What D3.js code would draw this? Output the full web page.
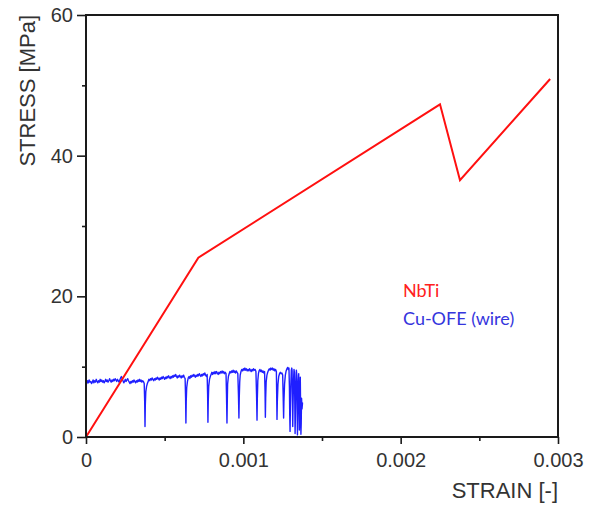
<!DOCTYPE html>
<html>
<head>
<meta charset="utf-8">
<script src="https://cdn.jsdelivr.net/npm/d3@7"></script>
<style>
  html, body { margin: 0; padding: 0; background: #fff; }
  svg { display: block; }
</style>
</head>
<body>
<div id="chart"></div>
<script>
// ---------------- DATA ----------------
const xTickValues = [0, 0.001, 0.002, 0.003];
const xTickLabels = ["0", "0.001", "0.002", "0.003"];
const xMinorTicks = [0.0005, 0.0015, 0.0025];
const yTickValues = [0, 20, 40, 60];
const yTickLabels = ["0", "20", "40", "60"];
const yMinorTicks = [10, 30, 50];

const xTitle = "STRAIN [-]";
const yTitle = "STRESS [MPa]";
const seriesNames = ["NbTi", "Cu-OFE (wire)"];

// NbTi: strain, stress [MPa]
const nbtiStrain = [0, 0.000714, 0.00225, 0.002377, 0.00295];
const nbtiStress = [0, 25.5, 47.3, 36.5, 50.9];

// Cu-OFE (wire): strain in units of 1e-5, stress [MPa]
const cuStrainE5 = [
 0,0.5,1,1.5,2,2.5,3,3.5,4,4.5,5,5.5,6,6.5,7,7.5,8,8.5,9,9.5,
 10,10.5,11,11.5,12,12.5,13,13.5,14,14.5,15,15.5,16,16.5,17,17.5,18,18.5,19,19.5,
 20,20.5,21,21.5,22,22.5,23,23.5,24,24.5,25,25.5,26,26.5,27,27.5,28,28.5,29,29.5,
 30,30.5,31,31.5,32,32.5,33,33.5,34,34.5,35,35.5,36,36.5,37,37.3,37.5,37.7,38,38.5,
 39,39.5,40,40.5,41,41.5,42,42.5,43,43.5,44,44.5,45,45.5,46,46.5,47,47.5,48,48.5,
 49,49.5,50,50.5,51,51.5,52,52.5,53,53.5,54,54.5,55,55.5,56,56.5,57,57.5,58,58.5,
 59,59.5,60,60.5,61,61.5,62,62.5,63,63.3,63.5,63.7,64,64.5,65,65.5,66,66.5,67,67.5,
 68,68.5,69,69.5,70,70.5,71,71.5,72,72.5,73,73.5,74,74.5,75,75.5,76,76.5,77,77.3,
 77.5,77.7,78,78.5,79,79.5,80,80.5,81,81.5,82,82.5,83,83.5,84,84.5,85,85.5,86,86.5,
 87,87.5,88,88.5,89,89.3,89.6,89.8,90,90.5,91,91.5,92,92.5,93,93.5,94,94.5,95,95.5,
 96,96.5,96.9,97.2,97.4,97.7,98,98.5,99,99.5,100,100.5,101,101.5,102,102.5,103,103.5,104,104.5,
 105,105.5,106,106.5,107,107.5,108,108.4,108.7,108.9,109.2,109.6,110,110.5,111,111.5,112,112.5,113,113.5,
 113.8,114,114.2,114.5,115,115.5,116,116.5,117,117.5,118,118.5,119,119.5,120,120.5,121,121.2,121.4,121.6,
 122,122.5,123,123.5,124,124.5,125,125.3,125.6,125.8,126.2,126.7,127.2,127.7,128.2,128.6,129,129.3,129.5,129.7,
 129.9,130.2,130.5,130.8,131,131.2,131.4,131.6,131.9,132.2,132.5,132.7,132.9,133.1,133.4,133.7,134,134.2,134.4,134.6,
 134.9,135.2,135.4,135.6,135.8,136,136.2,136.4,136.6,136.8,137,137.3,137.6,138
];
const cuStress = [
 7.9,7.6,8.0,7.7,8.1,7.8,7.9,7.6,7.8,8.1,7.7,8.0,7.8,8.2,7.9,7.7,8.0,7.8,8.2,7.9,
 8.1,7.8,8.0,7.7,7.9,8.2,7.9,8.1,7.8,8.0,8.3,8.0,7.8,8.1,7.9,8.2,8.0,8.3,8.1,7.9,
 8.2,8.0,7.8,8.1,8.4,8.6,8.3,8.0,7.7,7.9,8.2,7.9,8.1,8.3,8.0,7.8,7.6,7.9,7.7,8.0,
 7.8,8.1,7.9,7.7,8.0,7.8,8.1,7.9,8.2,7.9,8.1,7.8,8.0,7.9,7.6,5.0,1.5,4.5,6.4,7.2,
 7.6,7.9,8.2,8.0,8.3,8.1,8.4,8.2,8.0,8.3,8.1,8.4,8.2,8.5,8.3,8.1,8.4,8.2,8.5,8.3,
 8.6,8.4,8.2,8.5,8.3,8.6,8.4,8.7,8.5,8.3,8.6,8.4,8.7,8.5,8.8,8.6,8.9,8.6,8.4,8.7,
 8.5,8.8,8.6,8.4,8.7,8.5,8.8,8.5,8.3,5.5,2.0,5.0,7.0,7.9,8.4,8.6,8.3,8.7,8.5,8.8,
 8.6,8.9,8.7,8.5,8.8,8.6,8.9,8.7,9.0,8.8,8.6,8.9,8.7,9.0,8.8,9.1,8.8,8.6,8.9,6.0,
 2.1,5.0,7.2,8.2,8.6,8.9,9.2,8.9,9.2,9.0,9.3,9.0,9.3,9.1,8.9,9.2,9.0,9.3,9.1,9.4,
 9.1,9.3,9.0,9.2,9.0,6.0,2.0,5.0,7.5,8.6,9.0,9.3,9.1,9.4,9.2,9.5,9.2,9.4,9.1,9.4,
 9.2,9.0,6.0,2.7,5.5,7.8,8.8,9.3,9.6,9.4,9.7,9.5,9.8,9.5,9.7,9.4,9.6,9.4,9.7,9.5,
 9.3,9.6,9.4,9.7,9.5,9.6,9.3,6.0,2.4,5.5,8.0,9.0,9.4,9.6,9.3,9.5,9.2,9.4,9.1,9.3,
 6.5,2.8,5.5,7.8,8.8,9.2,9.5,9.7,9.5,9.8,9.6,9.8,9.5,9.7,9.4,9.6,9.3,6.0,2.5,5.0,
 7.5,8.6,9.0,9.2,9.0,9.1,8.8,6.0,2.7,5.0,7.5,8.8,9.4,9.7,9.9,9.6,9.8,7.0,3.0,0.8,
 4.0,7.5,9.5,9.8,9.4,5.0,1.5,4.5,8.0,9.6,9.2,5.0,0.5,3.0,7.5,9.5,8.8,4.0,0.3,3.5,
 7.8,9.0,5.0,1.0,2.5,6.5,8.5,4.0,0.4,2.0,5.5,4.0,4.8,4.8
];

// ---------------- CHART ----------------
const W = 600, H = 507;
const margin = { top: 15, right: 42, bottom: 70, left: 86 };
const iw = W - margin.left - margin.right;
const ih = H - margin.top - margin.bottom;

const svg = d3.select("#chart").append("svg")
  .attr("width", W).attr("height", H);
const g = svg.append("g").attr("transform", `translate(${margin.left},${margin.top})`);

const x = d3.scaleLinear().domain([0, 0.003]).range([0, iw]);
const y = d3.scaleLinear().domain([0, 60]).range([ih, 0]);

const tickFont = "'Liberation Sans', Arial, sans-serif";
const axisColor = "#1a1a1a";
const labelColor = "#333";

// Data lines
const nbti = nbtiStrain.map((s, i) => [s, nbtiStress[i]]);
const cu = cuStrainE5.map((s, i) => [s * 1e-5, cuStress[i]]);
const line = d3.line().x(d => x(d[0])).y(d => y(d[1]));

g.append("path").datum(cu)
  .attr("fill", "none").attr("stroke", "#1f1fff")
  .attr("stroke-width", 1.4).attr("stroke-linejoin", "round")
  .attr("d", line);

g.append("path").datum(nbti)
  .attr("fill", "none").attr("stroke", "#ff1010")
  .attr("stroke-width", 2).attr("stroke-linejoin", "miter")
  .attr("d", line);

// Axes
function styleAxis(sel) {
  sel.select(".domain").remove();
  sel.selectAll(".tick line").attr("stroke", axisColor).attr("stroke-width", 1.6);
  sel.selectAll(".tick text").attr("fill", labelColor)
    .style("font-family", tickFont).style("font-size", "20px");
}

g.append("g")
  .call(d3.axisLeft(y).tickValues(yTickValues).tickSize(9).tickPadding(4)
    .tickFormat((d, i) => yTickLabels[i]))
  .call(styleAxis);
g.append("g")
  .call(d3.axisLeft(y).tickValues(yMinorTicks).tickSize(4).tickFormat(""))
  .call(styleAxis);

g.append("g").attr("transform", `translate(0,${ih})`)
  .call(d3.axisBottom(x).tickValues(xTickValues).tickSize(7).tickPadding(9)
    .tickFormat((d, i) => xTickLabels[i]))
  .call(styleAxis);
g.append("g").attr("transform", `translate(0,${ih})`)
  .call(d3.axisBottom(x).tickValues(xMinorTicks).tickSize(4).tickFormat(""))
  .call(styleAxis);

// Frame
g.append("rect").attr("x", 0).attr("y", 0).attr("width", iw).attr("height", ih)
  .attr("fill", "none").attr("stroke", axisColor).attr("stroke-width", 2);

// Axis titles
svg.append("text")
  .attr("transform", `translate(35,${margin.top}) rotate(-90)`)
  .attr("text-anchor", "end")
  .style("font-family", tickFont).style("font-size", "22px")
  .attr("fill", labelColor).text(yTitle);

svg.append("text")
  .attr("x", margin.left + iw).attr("y", 498)
  .attr("text-anchor", "end")
  .style("font-family", tickFont).style("font-size", "22px")
  .attr("fill", labelColor).text(xTitle);

// Legend (text labels)
const legendColors = ["#ff2020", "#3535dd"];
const legendX = 403, legendY = [297, 325];
seriesNames.forEach((n, i) => {
  svg.append("text").attr("x", legendX).attr("y", legendY[i])
    .style("font-family", "Lato, 'Open Sans', sans-serif").style("font-size", "18px")
    .attr("fill", legendColors[i]).text(n);
});
</script>
</body>
</html>
